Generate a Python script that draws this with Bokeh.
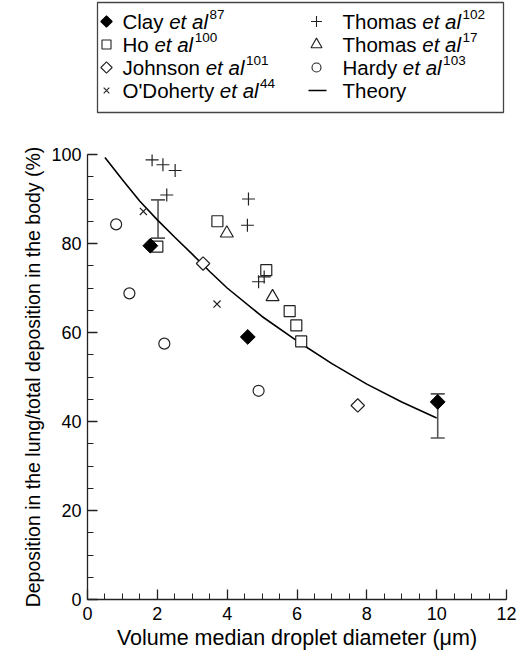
import math
from bokeh.plotting import figure
from bokeh.models import Range1d, SingleIntervalTicker, Whisker, TeeHead, ColumnDataSource
from bokeh.layouts import column
from bokeh.core.properties import value
from bokeh.embed import file_html
from bokeh.resources import INLINE

# ---------------- data ----------------
clay_x = [1.8, 4.59, 10.03]
clay_y = [79.5, 59.0, 44.4]
ho_x = [2.0, 3.72, 5.12, 5.79, 5.98, 6.12]
ho_y = [79.3, 85.0, 74.0, 64.8, 61.6, 58.0]
johnson_x = [3.31, 7.74]
johnson_y = [75.5, 43.6]
odoherty_x = [1.6, 3.71]
odoherty_y = [87.2, 66.4]
thomas102_x = [1.85, 2.16, 2.51, 2.27, 4.61, 4.58, 5.06, 4.9]
thomas102_y = [98.8, 97.7, 96.4, 90.9, 90.0, 84.1, 72.5, 71.4]
thomas17_x = [3.99, 5.3]
thomas17_y = [82.3, 68.0]
hardy_x = [0.82, 1.2, 2.2, 4.9]
hardy_y = [84.3, 68.8, 57.5, 46.9]
theory_x = [0.5, 1.0, 1.5, 2.0, 2.5, 3.0, 3.5, 4.0, 5.0, 6.0, 7.0, 8.0, 9.0, 10.0]
theory_y = [99.3, 94.3, 89.5, 85.3, 81.4, 77.6, 73.7, 70.0, 63.6, 58.1, 53.0, 48.4, 44.4, 40.8]
err_x = [2.02, 10.03]
err_lo = [81.2, 36.3]
err_hi = [89.8, 46.2]

x_ticks_interval = 2
y_ticks_interval = 20
x_label = "Volume median droplet diameter (\u03bcm)"
y_label = "Deposition in the lung/total deposition in the body (%)"

legend_left = [("diamond", "black", "Clay ", "87"),
               ("square", "white", "Ho ", "100"),
               ("diamond", "white", "Johnson ", "101"),
               ("x", "white", "O'Doherty ", "44")]
legend_right = [("cross", "white", "Thomas ", "102"),
                ("triangle", "white", "Thomas ", "17"),
                ("circle", "white", "Hardy ", "103"),
                ("line", None, "Theory", "")]

FONT = "Liberation Sans"
INK = "#222222"
FIG_W = 518
BORDER_L = 87
BORDER_R = 12
ROT = math.pi / 4

# ---------------- main plot ----------------
p = figure(width=FIG_W, height=532, x_range=Range1d(0, 12), y_range=Range1d(0, 100),
           output_backend="svg", toolbar_location=None,
           min_border_left=BORDER_L, min_border_right=BORDER_R, min_border_top=34, min_border_bottom=47)
p.outline_line_color = None
p.xgrid.visible = False
p.ygrid.visible = False
p.background_fill_color = "white"
p.border_fill_color = "white"

p.xaxis.ticker = SingleIntervalTicker(interval=x_ticks_interval, num_minor_ticks=4)
p.yaxis.ticker = SingleIntervalTicker(interval=y_ticks_interval, num_minor_ticks=4)
for ax in (p.xaxis[0], p.yaxis[0]):
    ax.major_tick_in = 10
    ax.major_tick_out = 0
    ax.minor_tick_in = 6
    ax.minor_tick_out = 0
    ax.axis_line_color = INK
    ax.axis_line_width = 1.3
    ax.major_tick_line_color = INK
    ax.minor_tick_line_color = INK
    ax.major_tick_line_width = 1.3
    ax.minor_tick_line_width = 1.0
    ax.major_label_text_font = FONT
    ax.major_label_text_font_size = "18px"
    ax.major_label_text_color = "black"
    ax.axis_label_text_font = FONT
    ax.axis_label_text_font_style = "normal"
    ax.axis_label_text_color = "black"
p.xaxis.axis_label = x_label
p.yaxis.axis_label = y_label
p.xaxis.axis_label_text_font_size = "21.5px"
p.yaxis.axis_label_text_font_size = "19.5px"
p.xaxis.major_label_standoff = 7
p.xaxis.axis_label_standoff = 3
p.yaxis.major_label_standoff = 6
p.yaxis.axis_label_standoff = 4

p.line(theory_x, theory_y, line_color="black", line_width=1.6)

src = ColumnDataSource(dict(x=err_x, lo=err_lo, hi=err_hi))
wh = Whisker(source=src, base="x", lower="lo", upper="hi", dimension="height",
             line_color="#555555", line_width=1.6,
             upper_head=TeeHead(size=14, line_color="#555555", line_width=1.6),
             lower_head=TeeHead(size=14, line_color="#555555", line_width=1.6))
p.add_layout(wh)

mk = dict(line_color=INK, line_width=1.2)
p.scatter(ho_x, ho_y, marker="square", size=11, fill_color="white", **mk)
p.scatter(thomas102_x, thomas102_y, marker="cross", size=13, fill_color=None, **mk)
p.scatter(thomas17_x, thomas17_y, marker="triangle", size=13, fill_color="white", **mk)
p.scatter(hardy_x, hardy_y, marker="circle", size=11, fill_color="white", **mk)
p.scatter(johnson_x, johnson_y, marker="square", angle=ROT, size=9.5, fill_color="white", **mk)
p.scatter(odoherty_x, odoherty_y, marker="x", size=10, fill_color=None, **mk)
p.scatter(clay_x, clay_y, marker="square", angle=ROT, size=10.5, fill_color="black",
          line_color="black", line_width=1)

# ---------------- legend panel ----------------
W = {' ': 278, 'C': 722, 'l': 222, 'a': 556, 'y': 500, 'e': 556, 't': 278, 'H': 722, 'o': 556,
     'J': 500, 'h': 556, 'n': 556, 's': 500, 'O': 778, "'": 191, 'D': 722, 'r': 333, 'T': 611,
     'm': 833, 'd': 556}


def tw(s, size):
    return sum(W.get(c, 556) for c in s) * size / 1000.0


# the column aligns this panel's frame with the main frame, so its x range spans the
# same pixels (BORDER_L .. FIG_W - BORDER_R) and is expressed in page pixels
lg = figure(width=FIG_W, height=120, x_range=Range1d(BORDER_L, FIG_W - BORDER_R),
            y_range=Range1d(120, 0),
            output_backend="svg", toolbar_location=None, min_border=0,
            min_border_left=BORDER_L, min_border_right=BORDER_R,
            x_axis_location=None, y_axis_location=None)
lg.xgrid.visible = False
lg.ygrid.visible = False
lg.outline_line_color = None
lg.border_fill_color = "white"

box_l, box_r, box_t, box_b = 97, 503, 2, 112
lg.quad(left=[box_l], right=[box_r], top=[box_t], bottom=[box_b], fill_color=None,
        line_color="#444444", line_width=1.3)

fs = 20.5
ss = 13.5
row_y = [21, 44, 67, 90]
cols = [(legend_left, 106, 122), (legend_right, 316, 342)]
for entries, mx, tx in cols:
    for (m, fill, name, sup), yy in zip(entries, row_y):
        if m == "line":
            lg.line([mx - 8, mx + 10], [yy, yy], line_color="black", line_width=1.6)
        elif m == "diamond":
            lg.scatter([mx], [yy], marker="square", angle=ROT, size=8, fill_color=fill,
                       line_color=INK if fill == "white" else "black", line_width=1.1)
        else:
            size = {"square": 9, "x": 8, "cross": 11, "triangle": 11, "circle": 9}[m]
            lg.scatter([mx], [yy], marker=m, size=size, fill_color=fill if m not in ("x", "cross") else None,
                       line_color=INK, line_width=1.1)
        lg.text([tx], [yy], text=[name], text_font=value(FONT), text_font_size=f"{fs}px",
                text_baseline="middle", text_color="black")
        if sup:
            x2 = tx + tw(name, fs)
            lg.text([x2], [yy], text=["et al"], text_font=value(FONT), text_font_size=f"{fs}px",
                    text_font_style="italic", text_baseline="middle", text_color="black")
            x3 = x2 + tw("et al", fs) + 1.5
            lg.text([x3], [yy - 7], text=[sup], text_font=value(FONT), text_font_size=f"{ss}px",
                    text_baseline="middle", text_color="black")

layout = column(lg, p, spacing=0)
open("out.html", "w").write(file_html(layout, INLINE))
